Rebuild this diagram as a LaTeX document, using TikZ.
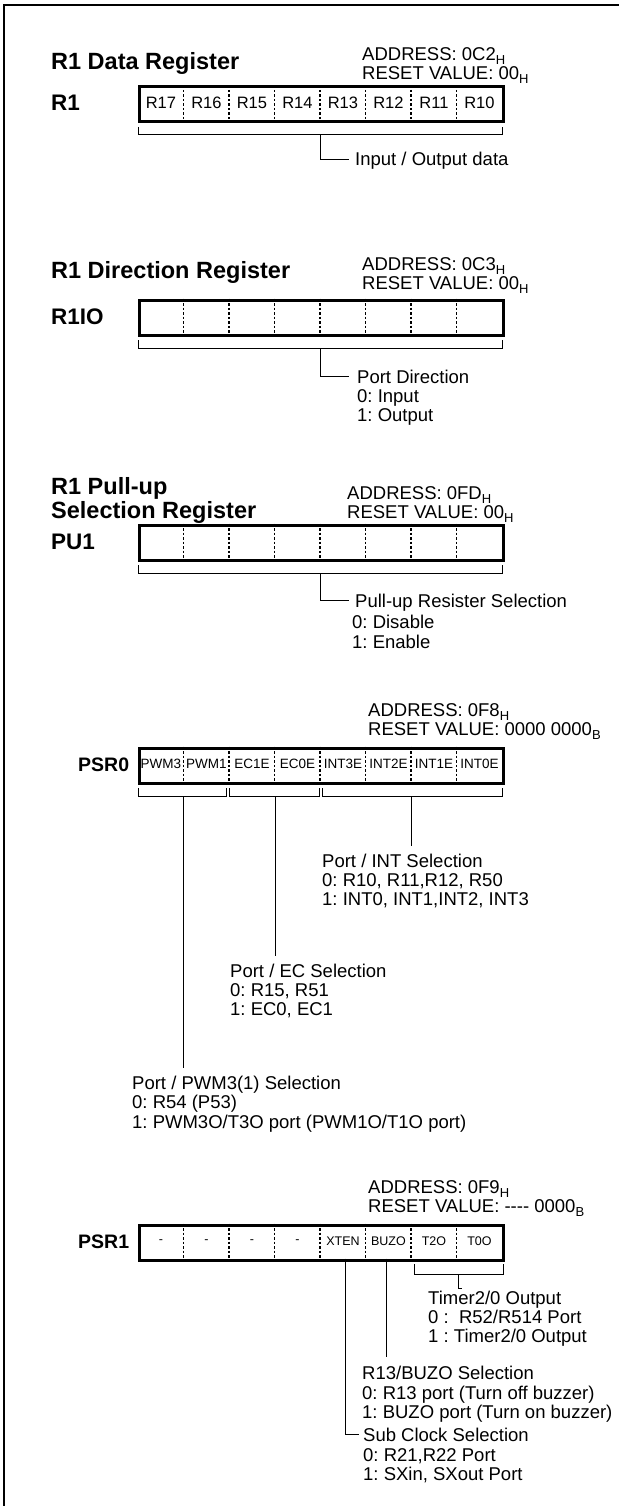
\documentclass[tikz,border=0pt]{standalone}
\usepackage{fontspec}
\setmainfont{Liberation Sans}
\frenchspacing
\newcommand\hsub[1]{\raisebox{-4pt}{\fontsize{13}{13}\selectfont #1}}
\begin{document}
\begin{tikzpicture}[x=1pt,y=-1pt,
  title/.style={font=\fontsize{23.5}{24}\selectfont\bfseries, anchor=base west, inner sep=0},
  reglabel/.style={font=\fontsize{22.5}{24}\selectfont\bfseries, anchor=base west, inner sep=0},
  info/.style={font=\fontsize{18.5}{20}\selectfont, anchor=base west, inner sep=0},
  desc/.style={font=\fontsize{18.5}{20}\selectfont, anchor=base west, inner sep=0},
  regbox/.style={draw, line width=3pt, minimum width=364pt, minimum height=35pt, inner sep=0, anchor=north west},
  cell/.style={inner sep=0, minimum width=45.5pt, minimum height=35pt, anchor=north west},
  divider/.style={line width=1.3pt, dash pattern=on 2.5pt off 2pt},
  brk/.style={line width=1pt},
  frame/.style={line width=2.5pt}
]
\useasboundingbox (0,0) rectangle (619,1506);
\coordinate (fbl) at (4,1506);
\coordinate (ftl) at (4,5);
\coordinate (ftr) at (619,5);
\draw[frame] (fbl) -- (ftl) -- (ftr);

% ---------- R1 ----------
\node[title] (t1) at (51,70) {R1 Data Register};
\node[info] (a1) at (362,61) {ADDRESS: 0C2\hsub{H}};
\node[info] (v1) at (362,80) {RESET VALUE: 00\hsub{H}};
\node[reglabel] (l1) at (51,111) {R1};
\node[regbox] (b1) at (138,85.5) {};
\foreach \t [count=\i from 0] in {R17,R16,R15,R14,R13,R12,R11,R10}
  \node[cell, font=\fontsize{16.5}{17}\selectfont] (r1c\i) at ({138+45.5*\i},85.5) {\t};
\foreach \i in {1,...,7} \draw[divider] (r1c\i.north west) -- (r1c\i.south west);
\coordinate (k1a) at (138,127); \coordinate (k1b) at (138,135);
\coordinate (k1c) at (502,135); \coordinate (k1d) at (502,127);
\draw[brk] (k1a) -- (k1b) -- (k1c) -- (k1d);
\coordinate (s1a) at (320,135); \coordinate (s1b) at (320,160); \coordinate (s1c) at (349,160);
\draw[brk] (s1a) -- (s1b) -- (s1c);
\node[desc] (d1) at (355,166) {Input / Output data};

% ---------- R1IO ----------
\node[title] (t2) at (51,278) {R1 Direction Register};
\node[info] (a2) at (362,270) {ADDRESS: 0C3\hsub{H}};
\node[info] (v2) at (362,289) {RESET VALUE: 00\hsub{H}};
\node[reglabel] (l2) at (51,324) {R1IO};
\node[regbox] (b2) at (138,298.5) {};
\foreach \i in {0,...,7}
  \node[cell] (r2c\i) at ({138+45.5*\i},298.5) {};
\foreach \i in {1,...,7} \draw[divider] (r2c\i.north west) -- (r2c\i.south west);
\coordinate (k2a) at (138,340); \coordinate (k2b) at (138,348);
\coordinate (k2c) at (502,348); \coordinate (k2d) at (502,340);
\draw[brk] (k2a) -- (k2b) -- (k2c) -- (k2d);
\coordinate (s2a) at (320,348); \coordinate (s2b) at (320,376); \coordinate (s2c) at (349,376);
\draw[brk] (s2a) -- (s2b) -- (s2c);
\node[desc] (d2a) at (357,383) {Port Direction};
\node[desc] (d2b) at (357,402) {0: Input};
\node[desc] (d2c) at (357,421) {1: Output};

% ---------- PU1 ----------
\node[title] (t3a) at (51,494) {R1 Pull-up};
\node[title] (t3b) at (51,518) {Selection Register};
\node[info] (a3) at (347,499) {ADDRESS: 0FD\hsub{H}};
\node[info] (v3) at (347,518) {RESET VALUE: 00\hsub{H}};
\node[reglabel] (l3) at (51,549) {PU1};
\node[regbox] (b3) at (138,523.5) {};
\foreach \i in {0,...,7}
  \node[cell] (r3c\i) at ({138+45.5*\i},523.5) {};
\foreach \i in {1,...,7} \draw[divider] (r3c\i.north west) -- (r3c\i.south west);
\coordinate (k3a) at (138,565); \coordinate (k3b) at (138,573);
\coordinate (k3c) at (502,573); \coordinate (k3d) at (502,565);
\draw[brk] (k3a) -- (k3b) -- (k3c) -- (k3d);
\coordinate (s3a) at (320,573); \coordinate (s3b) at (320,600); \coordinate (s3c) at (349,600);
\draw[brk] (s3a) -- (s3b) -- (s3c);
\node[desc] (d3a) at (355,607) {Pull-up Resister Selection};
\node[desc] (d3b) at (352,628) {0: Disable};
\node[desc] (d3c) at (352,648) {1: Enable};

% ---------- PSR0 ----------
\node[info] (a4) at (368,716) {ADDRESS: 0F8\hsub{H}};
\node[info] (v4) at (368,735) {RESET VALUE: 0000 0000\hsub{B}};
\node[reglabel, font=\fontsize{19.5}{20}\selectfont\bfseries] (l4) at (78,771) {PSR0};
\node[regbox] (b4) at (138,746.5) {};
\foreach \t [count=\i from 0] in {PWM3,\raisebox{-1.5pt}{PWM1},EC1E,EC0E,INT3E,INT2E,INT1E,INT0E}
  \node[cell, font=\fontsize{13.5}{14}\selectfont] (r4c\i) at ({138+45.5*\i},746.5) {\t};
\foreach \i in {1,...,7} \draw[divider] (r4c\i.north west) -- (r4c\i.south west);
\coordinate (k4a) at (138,788); \coordinate (k4b) at (138,796);
\coordinate (k4c) at (226,796); \coordinate (k4d) at (226,788);
\draw[brk] (k4a) -- (k4b) -- (k4c) -- (k4d);
\coordinate (k4e) at (229,788); \coordinate (k4f) at (229,796);
\coordinate (k4g) at (319,796); \coordinate (k4h) at (319,788);
\draw[brk] (k4e) -- (k4f) -- (k4g) -- (k4h);
\coordinate (k4i) at (322,788); \coordinate (k4j) at (322,796);
\coordinate (k4k) at (502,796); \coordinate (k4l) at (502,788);
\draw[brk] (k4i) -- (k4j) -- (k4k) -- (k4l);
\coordinate (s4a) at (411,796); \coordinate (s4b) at (411,846);
\coordinate (s4c) at (275,796); \coordinate (s4d) at (275,956);
\coordinate (s4e) at (183,796); \coordinate (s4f) at (183,1068);
\draw[brk] (s4a) -- (s4b);
\draw[brk] (s4c) -- (s4d);
\draw[brk] (s4e) -- (s4f);
\node[desc] (d4a) at (322,867) {Port / INT Selection};
\node[desc] (d4b) at (322,886) {0: R10, R11,R12, R50};
\node[desc] (d4c) at (322,905) {1: INT0, INT1,INT2, INT3};
\node[desc] (d5a) at (230,977) {Port / EC Selection};
\node[desc] (d5b) at (230,996) {0: R15, R51};
\node[desc] (d5c) at (230,1015) {1: EC0, EC1};
\node[desc] (d6a) at (132,1089) {Port / PWM3(1) Selection};
\node[desc] (d6b) at (132,1108) {0: R54 (P53)};
\node[desc] (d6c) at (132,1128) {1: PWM3O/T3O port (PWM1O/T1O port)};

% ---------- PSR1 ----------
\node[info] (a5) at (368,1193) {ADDRESS: 0F9\hsub{H}};
\node[info] (v5) at (368,1212) {RESET VALUE: -{}-{}-{}- 0000\hsub{B}};
\node[reglabel, font=\fontsize{19.5}{20}\selectfont\bfseries] (l5) at (78,1248) {PSR1};
\node[regbox] (b5) at (138,1223.5) {};
\foreach \t [count=\i from 0] in {-,-,-,-,XTEN,BUZO,T2O,T0O}
  \node[cell, font=\fontsize{12.5}{13}\selectfont] (r5c\i) at ({138+45.5*\i},1223.5) {\t};
\foreach \i in {1,...,7} \draw[divider] (r5c\i.north west) -- (r5c\i.south west);
\coordinate (k5a) at (414,1264); \coordinate (k5b) at (414,1274);
\coordinate (k5c) at (503,1274); \coordinate (k5d) at (503,1264);
\draw[brk] (k5a) -- (k5b) -- (k5c) -- (k5d);
\coordinate (s5a) at (458,1274); \coordinate (s5b) at (458,1288); \coordinate (s5c) at (462,1288);
\draw[brk] (s5a) -- (s5b) -- (s5c);
\node[desc] (d7a) at (428,1304) {Timer2/0 Output};
\node[desc] (d7b) at (428,1323) {0 :~ R52/R514 Port};
\node[desc] (d7c) at (428,1342) {1 : Timer2/0 Output};
\coordinate (s6a) at (386,1258.5); \coordinate (s6b) at (386,1357);
\draw[brk] (s6a) -- (s6b);
\node[desc] (d8a) at (362,1379) {R13/BUZO Selection};
\node[desc] (d8b) at (362,1399) {0: R13 port (Turn off buzzer)};
\node[desc] (d8c) at (362,1418) {1: BUZO port (Turn on buzzer)};
\coordinate (s7a) at (345,1258.5); \coordinate (s7b) at (345,1434); \coordinate (s7c) at (359,1434);
\draw[brk] (s7a) -- (s7b) -- (s7c);
\node[desc] (d9a) at (363,1441) {Sub Clock Selection};
\node[desc] (d9b) at (363,1461) {0: R21,R22 Port};
\node[desc] (d9c) at (363,1480) {1: SXin, SXout Port};
\end{tikzpicture}
\end{document}
